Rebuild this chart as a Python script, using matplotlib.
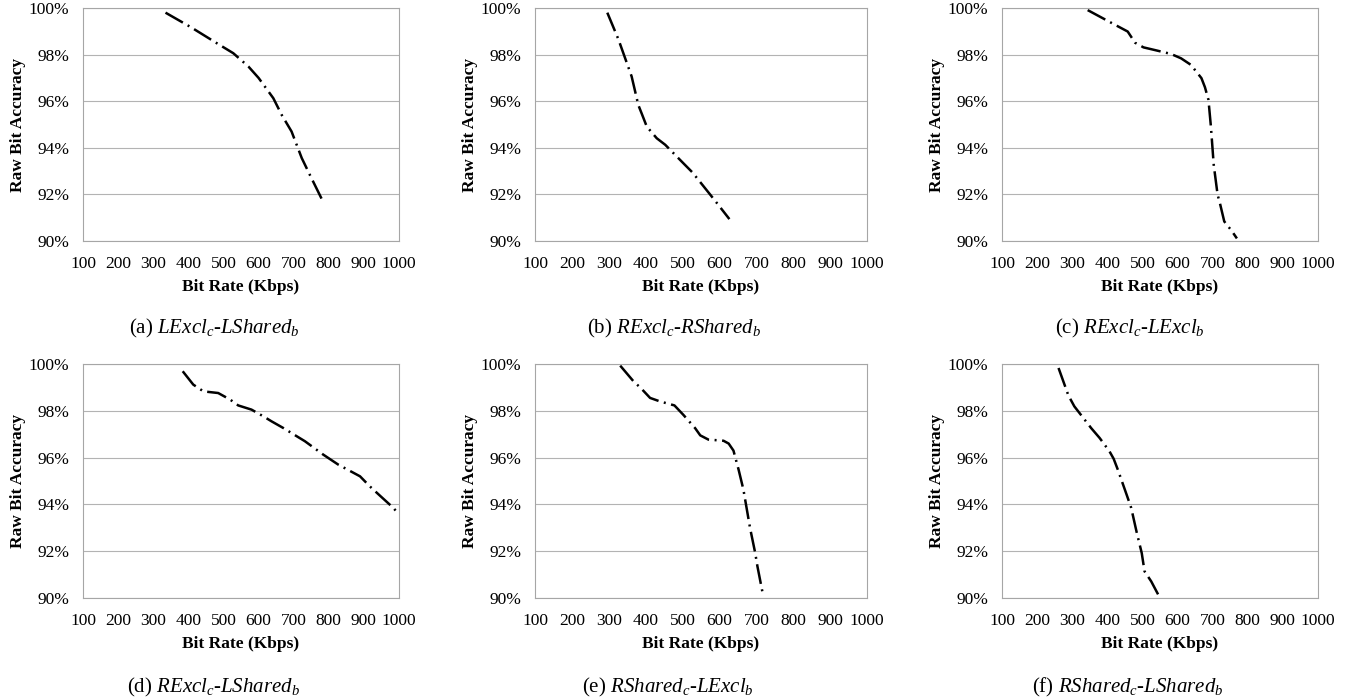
import matplotlib
matplotlib.use('Agg')
import matplotlib.pyplot as plt
from matplotlib.ticker import FuncFormatter

# 字体：Times 风格
plt.rcParams['font.family'] = ['Liberation Serif', 'DejaVu Serif']
plt.rcParams['mathtext.fontset'] = 'custom'
plt.rcParams['mathtext.rm'] = 'Liberation Serif'
plt.rcParams['mathtext.it'] = 'Liberation Serif:italic'

# 各子图数据 (Kbps, %)
a_x = [335, 408, 481, 528, 571, 600, 642, 666, 694, 723, 747, 782]
a_y = [99.8, 99.17, 98.49, 98.06, 97.49, 97.0, 96.13, 95.41, 94.7, 93.56, 92.81, 91.74]

b_x = [296, 326, 362, 380, 390, 403, 430, 453, 502, 527, 575, 593, 627]
b_y = [99.8, 98.66, 97.06, 95.84, 95.44, 94.91, 94.41, 94.13, 93.34, 92.94, 91.99, 91.63, 90.94]

c_x = [344, 418, 458, 479, 503, 534, 581, 610, 638, 668, 678, 688, 695, 703, 714, 721, 733, 754, 769]
c_y = [99.91, 99.31, 98.99, 98.51, 98.31, 98.2, 98.03, 97.84, 97.56, 96.99, 96.6, 96.06, 94.91, 93.27,
       91.99, 91.6, 90.84, 90.44, 90.11]

d_x = [384, 414, 443, 485, 519, 542, 580, 614, 637, 671, 709, 732, 784, 827, 889, 917, 946, 984, 998]
d_y = [99.69, 99.12, 98.83, 98.76, 98.48, 98.23, 98.05, 97.76, 97.55, 97.26, 96.91, 96.7, 96.13, 95.7,
       95.2, 94.77, 94.37, 93.85, 93.6]

e_x = [331, 367, 387, 412, 439, 478, 502, 534, 548, 570, 611, 625, 638, 652, 665, 683, 697, 703, 718]
e_y = [99.93, 99.26, 98.97, 98.55, 98.4, 98.23, 97.83, 97.26, 96.95, 96.77, 96.72, 96.6, 96.3, 95.48,
       94.63, 92.99, 91.92, 91.35, 90.14]

f_x = [261, 289, 306, 354, 378, 406, 418, 430, 456, 468, 484, 498, 506, 525, 550]
f_y = [99.83, 98.66, 98.19, 97.26, 96.84, 96.27, 95.95, 95.48, 94.37, 93.85, 92.78, 91.92, 91.14,
       90.71, 90.0]

xticks = [100, 200, 300, 400, 500, 600, 700, 800, 900, 1000]
yticks = [90, 92, 94, 96, 98, 100]

captions = [r'(a) $LExcl_c$-$LShared_b$', r'(b) $RExcl_c$-$RShared_b$', r'(c) $RExcl_c$-$LExcl_b$',
            r'(d) $RExcl_c$-$LShared_b$', r'(e) $RShared_c$-$LExcl_b$', r'(f) $RShared_c$-$LShared_b$']
series = [(a_x, a_y), (b_x, b_y), (c_x, c_y), (d_x, d_y), (e_x, e_y), (f_x, f_y)]

W, H = 1348, 697
fig = plt.figure(figsize=(W / 100, H / 100), dpi=100)

# 轴区域 (像素): 左, 上, 宽, 高 ; 标题中心 x, y
boxes = [(83, 8, 316, 233, 214, 328), (535, 8, 332, 233, 674, 328), (1002, 8, 316, 233, 1130, 328),
         (83, 364, 316, 234, 213, 687), (535, 364, 332, 234, 668, 687), (1002, 364, 316, 234, 1128, 687)]

for i, (xs, ys) in enumerate(series):
    l, t, w, h, cx, cy = boxes[i]
    ax = fig.add_axes([l / W, 1 - (t + h) / H, w / W, h / H])
    line, = ax.plot(xs, ys, color='black', lw=1.8, clip_on=False)
    line.set_dashes((8, 2.2, 0.8, 2.2))
    ax.set_xlim(100, 1000)
    ax.set_ylim(90, 100)
    ax.set_xticks(xticks)
    ax.set_yticks(yticks)
    ax.yaxis.set_major_formatter(FuncFormatter(lambda v, p: f'{int(v)}%'))
    ax.tick_params(length=0, labelsize=12.5)
    ax.tick_params(axis='x', pad=11)
    ax.tick_params(axis='y', pad=10)
    ax.grid(axis='y', color='#b3b3b3', lw=0.8)
    ax.set_axisbelow(True)
    for s in ax.spines.values():
        s.set_color('#a6a6a6')
        s.set_linewidth(0.8)
    ax.set_xlabel('Bit Rate (Kbps)', fontsize=12.5, fontweight='bold')
    ax.set_ylabel('Raw Bit Accuracy', fontsize=12.5, fontweight='bold')
    ax.xaxis.set_label_coords(0.5, -38 / h)
    ax.yaxis.set_label_coords(-57 / w, 0.5)
    fig.text(cx / W, 1 - cy / H, captions[i], fontsize=15, ha='center', va='center')

plt.savefig('out.png', dpi=100)
